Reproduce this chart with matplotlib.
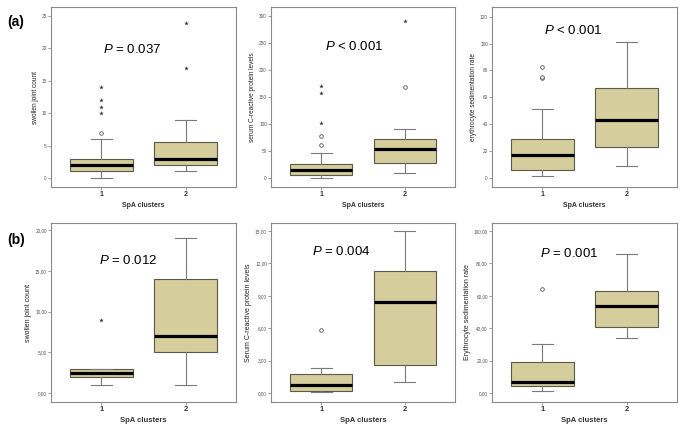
import matplotlib.pyplot as plt

plt.rcParams['font.family'] = ['Liberation Sans', 'DejaVu Sans']
plt.rcParams['mathtext.fontset'] = 'custom'
plt.rcParams['mathtext.it'] = 'Liberation Sans:italic'
plt.rcParams['mathtext.rm'] = 'Liberation Sans'

# Box statistics: [cluster 1, cluster 2]
# (a) swollen joint count
sjc_a_stats = {"whislo": [0, 1], "q1": [1, 2], "med": [2, 3], "q3": [3, 5.5], "whishi": [6, 9]}
sjc_a_circles = [[7], []]
sjc_a_stars = [[10, 11, 12, 14], [17, 24]]

# (a) serum CRP
crp_a_stats = {"whislo": [0, 9], "q1": [5.6, 27], "med": [15.5, 54], "q3": [26.5, 73], "whishi": [46, 91]}
crp_a_circles = [[61, 77], [168]]
crp_a_stars = [[102, 158, 171], [290]]

# (a) ESR
esr_a_stats = {"whislo": [1, 9], "q1": [6, 23], "med": [17, 43], "q3": [29, 67], "whishi": [51, 101]}
esr_a_circles = [[74, 75, 82.5], []]
esr_a_stars = [[], []]

# (b) swollen joint count
sjc_b_stats = {"whislo": [1, 1], "q1": [2, 5], "med": [2.5, 7], "q3": [3, 14], "whishi": [3, 19]}
sjc_b_circles = [[], []]
sjc_b_stars = [[9], []]

# (b) serum CRP
crp_b_stats = {"whislo": [0.08, 1.0], "q1": [0.18, 2.6], "med": [0.7, 8.4], "q3": [1.75, 11.3], "whishi": [2.3, 15]}
crp_b_circles = [[5.8], []]
crp_b_stars = [[], []]

# (b) ESR
esr_b_stats = {"whislo": [1, 34], "q1": [4.3, 41], "med": [6.7, 54], "q3": [19, 63], "whishi": [30, 86]}
esr_b_circles = [[64], []]
esr_b_stars = [[], []]

clusters = ["1", "2"]
p_texts = ["= 0.037", "< 0.001", "< 0.001", "= 0.012", "= 0.004", "= 0.001"]
y_labels = ["swollen joint count", "serum C-reactive protein levels", "erythrocyte sedimentation rate",
            "swollen joint count", "Serum C-reactive protein levels", "Erythrocyte sedimentation rate"]
y_ticks = [range(0, 26, 5), range(0, 301, 50), range(0, 121, 20),
           range(0, 21, 5), range(0, 16, 3), range(0, 101, 20)]
y_limits = [(-1.4, 26.4), (-16.8, 316.8), (-6.9, 127.2),
            (-1.1, 20.9), (-0.84, 15.75), (-5.5, 104.9)]

panels = [
    (sjc_a_stats, sjc_a_circles, sjc_a_stars),
    (crp_a_stats, crp_a_circles, crp_a_stars),
    (esr_a_stats, esr_a_circles, esr_a_stars),
    (sjc_b_stats, sjc_b_circles, sjc_b_stars),
    (crp_b_stats, crp_b_circles, crp_b_stars),
    (esr_b_stats, esr_b_circles, esr_b_stars),
]

W, H = 685, 430
col_px = [(51, 236), (271, 455), (492, 677)]
row_px = [(7, 187), (223, 402)]
p_pos = [(0.44, 0.765), (0.45, 0.78), (0.44, 0.87), (0.42, 0.79), (0.38, 0.84), (0.42, 0.83)]

fill = "#d5cd9b"
edge = "#5a5a4a"
frame = "#8a8a8a"

fig = plt.figure(figsize=(W / 100, H / 100), dpi=100)

for i, (stats, circles, stars) in enumerate(panels):
    r, c = divmod(i, 3)
    x0, x1 = col_px[c]
    t, b = row_px[r]
    ax = fig.add_axes([x0 / W, 1 - b / H, (x1 - x0) / W, (b - t) / H])

    bxp_stats = []
    for k in range(2):
        bxp_stats.append({"whislo": stats["whislo"][k], "q1": stats["q1"][k], "med": stats["med"][k],
                          "q3": stats["q3"][k], "whishi": stats["whishi"][k], "fliers": []})
    ax.bxp(bxp_stats, positions=[1, 2], widths=0.74, capwidths=0.25, showfliers=False,
           patch_artist=True,
           boxprops=dict(facecolor=fill, edgecolor=edge, linewidth=0.8),
           medianprops=dict(color="black", linewidth=2.3),
           whiskerprops=dict(color="#7a7a7a", linewidth=0.8),
           capprops=dict(color="#7a7a7a", linewidth=0.8))

    for k in range(2):
        if circles[k]:
            ax.plot([k + 1] * len(circles[k]), circles[k], "o", ms=2.6, mfc="white",
                    mec="#555555", mew=0.6, zorder=4)
        if stars[k]:
            ax.plot([k + 1] * len(stars[k]), stars[k], "*", ms=3.4, color="#333333",
                    mew=0, zorder=4)

    ax.set_xlim(0.4, 2.6)
    ax.set_ylim(*y_limits[i])
    ax.set_xticks([1, 2])
    ax.set_xticklabels(clusters, fontsize=5.5 if r else 5, fontweight="bold", color="#333333")
    ticks = list(y_ticks[i])
    ax.set_yticks(ticks)
    if r == 0:
        ax.set_yticklabels([str(v) for v in ticks], fontsize=3.4, color="#555555")
    else:
        ax.set_yticklabels([f"{v:.2f}".replace(".", ",") for v in ticks], fontsize=3.4, color="#555555")
    ax.tick_params(axis="both", length=2, width=0.5, color="#777777", pad=1)
    for s in ax.spines.values():
        s.set_color(frame)
        s.set_linewidth(0.8)

    ax.set_ylabel(y_labels[i], fontsize=5 if r else 4.7, color="#222222", labelpad=2)
    ax.set_xlabel("SpA clusters", fontsize=5.5 if r else 5, fontweight="bold", color="#333333", labelpad=3)

    ax.text(p_pos[i][0], p_pos[i][1], r"$\it{P}$ " + p_texts[i], transform=ax.transAxes,
            ha="center", va="center", fontsize=9.5, color="black")

fig.text(7 / W, 1 - 22 / H, "(a)", fontsize=10, fontweight="bold", va="center", ha="left")
fig.text(7 / W, 1 - 240 / H, "(b)", fontsize=10, fontweight="bold", va="center", ha="left")

fig.savefig("out.png", dpi=100)
